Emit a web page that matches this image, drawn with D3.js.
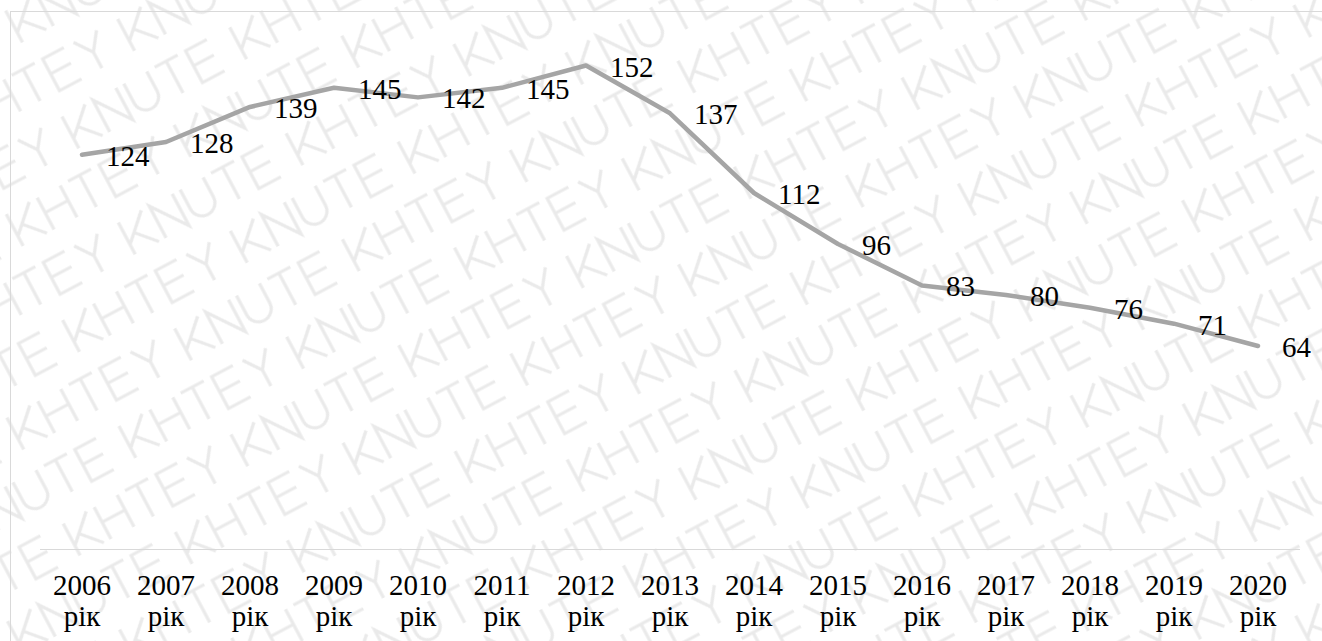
<!DOCTYPE html>
<html>
<head>
<meta charset="utf-8">
<script src="https://cdn.jsdelivr.net/npm/d3@7/dist/d3.min.js"></script>
</head>
<body style="margin:0">
<svg id="chart" width="1322" height="641"></svg>
<script>
const years = ["2006","2007","2008","2009","2010","2011","2012","2013","2014","2015","2016","2017","2018","2019","2020"];
const yearSuffix = "рік";
const values = [124,128,139,145,142,145,152,137,112,96,83,80,76,71,64];
const watermarkWords = ["KNUTE", "KHTEY"];

const W = 1322, H = 641;
const FONT = '"Liberation Serif", "Times New Roman", Tinos, FreeSerif, serif';
const svg = d3.select("#chart");

// ---- background watermark drawn as stroked letter shapes in a tiled pattern ----
const glyphs = {
  K: "M0 0V36M26 0L0 25M9 16L27 36",
  N: "M0 36V0L26 36V0",
  U: "M0 0V22A13 13 0 0 0 26 22V0",
  T: "M0 0H26M13 0V36",
  E: "M24 0H0V36H25M0 17H23",
  H: "M0 0V36M26 0V36M0 17H26",
  Y: "M0 0L13 18L26 0M13 18V36"
};
const advance = 35, tileW = 380, rowH = 60;
const pat = svg.append("defs").append("pattern")
  .attr("id", "wm")
  .attr("patternUnits", "userSpaceOnUse")
  .attr("width", tileW).attr("height", rowH * 2)
  .attr("patternTransform", "rotate(-28)");
[{ y: 12, off: 0 }, { y: 12 + rowH, off: 95 }].forEach(r => {
  [-tileW, 0, tileW].forEach(shift => {
    watermarkWords.forEach((w, wi) => {
      w.split("").forEach((ch, ci) => {
        pat.append("path")
          .attr("d", glyphs[ch])
          .attr("transform", `translate(${r.off + shift + wi * tileW / 2 + ci * advance},${r.y})`)
          .attr("fill", "none")
          .attr("stroke", "#eaeaea")
          .attr("stroke-width", 3.2);
      });
    });
  });
});
svg.append("rect").attr("width", W).attr("height", H).attr("fill", "url(#wm)");

// ---- chart border ----
svg.append("rect")
  .attr("x", 10.5).attr("y", 11.5)
  .attr("width", 1330).attr("height", 660)
  .attr("fill", "none").attr("stroke", "#d9d9d9").attr("stroke-width", 1);

const x = d3.scaleBand().domain(years).range([40, 1300]);
const y = d3.scaleLinear().domain([0, 160]).range([550, 40]);
const cx = d => x(d) + x.bandwidth() / 2;

// ---- x axis baseline (category axis at value 0) ----
svg.append("line")
  .attr("x1", x.range()[0]).attr("x2", x.range()[1])
  .attr("y1", y(0) - 0.5).attr("y2", y(0) - 0.5)
  .attr("stroke", "#d9d9d9").attr("stroke-width", 1.2);

// ---- line ----
const data = years.map((yr, i) => ({ yr, v: values[i] }));
const line = d3.line().x(d => cx(d.yr)).y(d => y(d.v));
svg.append("path").datum(data)
  .attr("d", line)
  .attr("fill", "none")
  .attr("stroke", "#a5a5a5")
  .attr("stroke-width", 4.5)
  .attr("stroke-linecap", "round")
  .attr("stroke-linejoin", "round");

// ---- category labels: year line ----
svg.selectAll("text.year").data(years).join("text")
  .attr("class", "year")
  .attr("x", d => cx(d)).attr("y", 595)
  .attr("text-anchor", "middle")
  .style("font-family", FONT)
  .style("font-size", "29px")
  .text(d => d);

// ---- category labels: suffix line ----
svg.selectAll("text.suffix").data(years).join("text")
  .attr("class", "suffix")
  .attr("x", d => cx(d)).attr("y", 626)
  .attr("text-anchor", "middle")
  .style("font-family", FONT)
  .style("font-size", "29px")
  .text(yearSuffix);

// ---- data labels ----
svg.selectAll("text.val").data(data).join("text")
  .attr("class", "val")
  .attr("x", d => cx(d.yr) + 24)
  .attr("y", d => y(d.v) + 11)
  .style("font-family", FONT)
  .style("font-size", "29px")
  .text(d => d.v);
</script>
</body>
</html>
